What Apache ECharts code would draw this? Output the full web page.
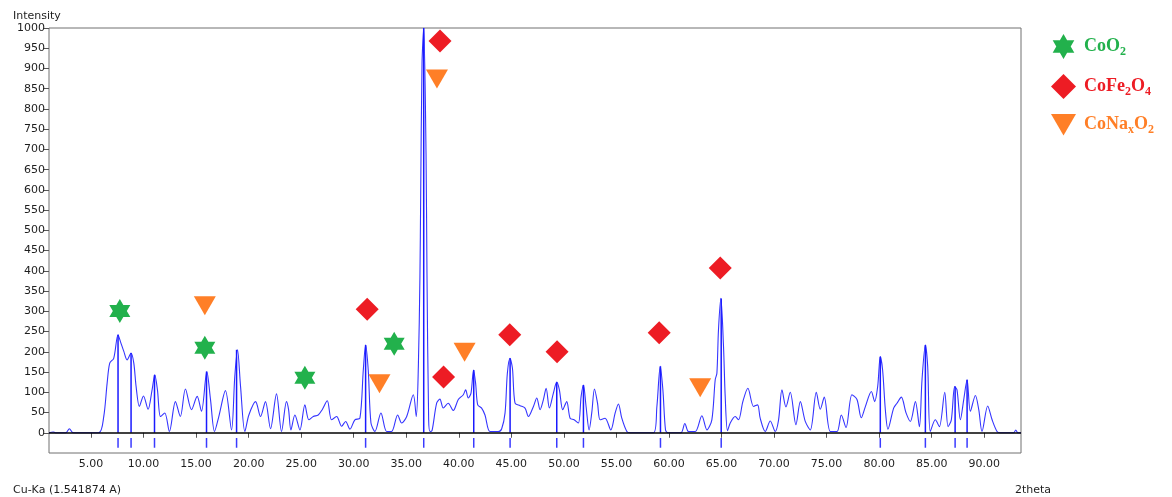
<!DOCTYPE html>
<html>
<head>
<meta charset="utf-8">
<title>XRD pattern</title>
<script src="https://cdn.jsdelivr.net/npm/echarts@6.0.0/dist/echarts.min.js"></script>
<style>
    html, body { margin: 0; padding: 0; background: #fff; }
    #chart_xrd { width: 1172px; height: 497px; }
</style>
</head>
<body>
<div id="chart_xrd"></div>
<script>
// measured pattern (2theta, intensity)
var theta = [1.0, 1.4, 1.6, 2.6, 2.94, 3.3, 5.73, 6.21, 6.53, 6.78, 7.16, 7.57, 7.8, 8.12, 8.43, 8.81, 9.07, 9.29, 9.6, 9.99,
    10.43, 10.81, 11.07, 11.32, 11.61, 12.02, 12.46, 13.03, 13.5, 13.98, 14.56, 15.1, 15.51, 16.02, 16.37, 16.75, 17.16, 17.79, 18.37, 18.68,
    18.94, 19.23, 19.64, 20.02, 20.66, 21.13, 21.6, 22.08, 22.65, 23.13, 23.6, 23.8, 24.02, 24.4, 24.88, 25.35, 25.73, 26.15, 26.62, 27.0,
    27.48, 27.89, 28.37, 28.85, 29.23, 29.64, 30.11, 30.59, 30.91, 31.13, 31.38, 31.64, 32.02, 32.59, 33.13, 33.6, 34.18, 34.56, 35.04, 35.67,
    35.95, 36.15, 36.3, 36.37, 36.5, 36.66, 36.88, 36.97, 37.13, 37.26, 37.45, 37.89, 38.2, 38.52, 38.99, 39.47, 39.95, 40.43, 40.65, 40.9,
    41.16, 41.4, 41.6, 41.8, 42.17, 42.49, 42.97, 43.76, 44.08, 44.4, 44.62, 44.87, 45.1, 45.35, 45.83, 46.3, 46.62, 47.1, 47.42, 47.73,
    48.05, 48.31, 48.62, 49.0, 49.32, 49.57, 49.89, 50.27, 50.59, 50.97, 51.38, 51.64, 51.86, 52.11, 52.4, 52.65, 52.91, 53.2, 53.45, 53.92,
    54.46, 54.88, 55.19, 55.51, 55.99, 56.3, 58.53, 58.85, 59.17, 59.42, 59.67, 59.9, 61.13, 61.51, 61.86, 62.5, 63.13, 63.61, 64.08, 64.4,
    64.56, 64.71, 64.94, 65.19, 65.35, 65.57, 65.83, 66.3, 66.62, 67.03, 67.51, 68.05, 68.43, 68.68, 69.16, 69.64, 70.11, 70.43, 70.75, 71.13,
    71.54, 72.08, 72.5, 72.97, 73.45, 74.02, 74.4, 74.78, 75.35, 75.99, 76.4, 76.85, 77.41, 77.89, 78.3, 78.68, 79.26, 79.57, 79.86, 80.11,
    80.33, 80.59, 80.84, 81.38, 81.7, 82.11, 82.56, 82.97, 83.45, 83.83, 84.08, 84.4, 84.62, 84.87, 85.35, 85.73, 86.24, 86.56, 86.87, 87.19,
    87.41, 87.73, 88.05, 88.37, 88.68, 89.16, 89.48, 89.79, 90.33, 90.75, 91.22, 91.5, 92.8, 93.0, 93.2, 93.5];
var intensity = [0, 2, 0, 0, 10, 0, 0, 40, 122, 172, 184, 242, 225, 201, 180, 197, 172, 114, 65, 91,
    58, 106, 143, 106, 40, 49, 3, 77, 40, 108, 57, 90, 53, 151, 82, 3, 40, 104, 7, 139,
    205, 114, 3, 44, 77, 40, 77, 10, 96, 3, 77, 57, 7, 44, 7, 69, 32, 40, 44, 57,
    79, 32, 40, 16, 28, 9, 32, 36, 155, 217, 155, 24, 3, 49, 3, 3, 44, 24, 40, 94,
    40, 164, 386, 583, 913, 1000, 690, 394, 32, 3, 5, 73, 83, 61, 73, 55, 82, 94, 106, 86,
    98, 155, 122, 69, 61, 44, 3, 3, 10, 49, 147, 184, 160, 73, 67, 61, 40, 65, 86, 57,
    82, 110, 61, 98, 125, 106, 57, 77, 36, 32, 24, 90, 118, 65, 7, 49, 108, 73, 32, 36,
    7, 49, 71, 36, 3, 0, 0, 65, 164, 106, 7, 0, 0, 23, 3, 3, 42, 7, 32, 131,
    147, 254, 332, 213, 90, 5, 24, 40, 32, 77, 110, 65, 69, 36, 3, 29, 3, 32, 106, 64,
    100, 20, 77, 28, 7, 100, 58, 88, 3, 3, 44, 13, 94, 82, 37, 64, 102, 77, 114, 188,
    155, 57, 9, 61, 73, 88, 49, 28, 77, 15, 131, 217, 164, 3, 32, 15, 100, 15, 32, 114,
    106, 32, 82, 131, 53, 92, 57, 3, 66, 32, 3, 0, 0, 7, 0, 0];

// reference peak positions (sticks)
var peakTheta = [7.57, 8.81, 11.04, 15.99, 18.85, 31.13, 36.66, 41.42, 44.88, 49.32, 51.86, 59.19, 64.97, 80.11, 84.4, 87.23, 88.37];
var peakHeight = [242, 197, 143, 151, 205, 217, 1000, 155, 184, 125, 118, 164, 332, 188, 217, 114, 131];

// phase markers
var coo2Theta = [7.74, 15.83, 25.35, 33.85];
var coo2Y = [301, 210, 136, 220];
var cofeTheta = [38.21, 31.28, 38.55, 44.85, 49.35, 59.07, 64.88];
var cofeY = [968, 305, 138, 242, 200, 247, 407];
var conaTheta = [37.92, 15.83, 32.45, 40.55, 62.97];
var conaY = [874, 314, 121, 199, 111];

var xTicks = [5, 10, 15, 20, 25, 30, 35, 40, 45, 50, 55, 60, 65, 70, 75, 80, 85, 90];
var yTicks = [0, 50, 100, 150, 200, 250, 300, 350, 400, 450, 500, 550, 600, 650, 700, 750, 800, 850, 900, 950, 1000];

function zip(a, b) {
    var out = [];
    for (var i = 0; i < a.length; i = i + 1) {
        out.push([a[i], b[i]]);
    }
    return out;
}

var starPath = 'path://M100,0 L128.9,50 L186.6,50 L157.7,100 L186.6,150 L128.9,150 L100,200 L71.1,150 L13.4,150 L42.3,100 L13.4,50 L71.1,50 Z';
var triPath = 'path://M0,0 L22,0 L11,19 Z';

var axisFont = 'Tahoma, "DejaVu Sans", sans-serif';
var legendFont = '"Liberation Serif", "Times New Roman", serif';

var chart_xrd = echarts.init(document.getElementById('chart_xrd'));
chart_xrd.setOption(option = {
    animation: false,
    grid: {
        left: 49,
        right: 151,
        top: 28,
        bottom: 44,
        show: true,
        borderColor: '#707070',
        borderWidth: 1
    },
    title: [{
        text: 'Intensity',
        left: 8,
        top: 6,
        textStyle: {fontFamily: axisFont, fontSize: 11, fontWeight: 'normal', color: '#1e1e1e'}
    }, {
        text: 'Cu-Ka (1.541874 A)',
        left: 8,
        top: 480,
        textStyle: {fontFamily: axisFont, fontSize: 11, fontWeight: 'normal', color: '#1e1e1e'}
    }, {
        text: '2theta',
        left: 1010,
        top: 480,
        textStyle: {fontFamily: axisFont, fontSize: 11, fontWeight: 'normal', color: '#1e1e1e'}
    }],
    legend: {
        orient: 'vertical',
        left: 1046,
        top: 29,
        itemWidth: 25,
        itemHeight: 25,
        itemGap: 15,
        selectedMode: false,
        formatter: function (name) {
            var map = {
                'CoO2': '{g|CoO}{gs|2}',
                'CoFe2O4': '{r|CoFe}{rs|2}{r|O}{rs|4}',
                'CoNaxO2': '{o|CoNa}{os|x}{o|O}{os|2}'
            };
            return map[name];
        },
        textStyle: {
            padding: [0, 0, 0, 3],
            rich: {
                g: {fontFamily: legendFont, fontWeight: 'bold', fontSize: 18, color: '#22b14c', lineHeight: 22},
                gs: {fontFamily: legendFont, fontWeight: 'bold', fontSize: 12, color: '#22b14c', lineHeight: 20, verticalAlign: 'bottom'},
                r: {fontFamily: legendFont, fontWeight: 'bold', fontSize: 18, color: '#ed1c24', lineHeight: 22},
                rs: {fontFamily: legendFont, fontWeight: 'bold', fontSize: 12, color: '#ed1c24', lineHeight: 20, verticalAlign: 'bottom'},
                o: {fontFamily: legendFont, fontWeight: 'bold', fontSize: 18, color: '#ff7f27', lineHeight: 22},
                os: {fontFamily: legendFont, fontWeight: 'bold', fontSize: 12, color: '#ff7f27', lineHeight: 20, verticalAlign: 'bottom'}
            }
        },
        data: [
            {name: 'CoO2', icon: starPath},
            {name: 'CoFe2O4', icon: 'diamond'},
            {name: 'CoNaxO2', icon: triPath}
        ]
    },
    xAxis: {
        type: 'value',
        min: 1,
        max: 93.5,
        axisLine: {show: false},
        splitLine: {show: false},
        axisTick: {
            show: true,
            length: 5,
            customValues: xTicks,
            lineStyle: {color: '#555'}
        },
        axisLabel: {
            customValues: xTicks,
            margin: 6,
            fontFamily: axisFont,
            fontSize: 11,
            color: '#1e1e1e',
            formatter: function (v) {
                return v.toFixed(2);
            }
        }
    },
    yAxis: {
        type: 'value',
        min: -50,
        max: 1000,
        axisLine: {show: false},
        splitLine: {show: false},
        axisTick: {
            show: true,
            length: 6,
            customValues: yTicks,
            lineStyle: {color: '#555'}
        },
        axisLabel: {
            customValues: yTicks,
            margin: 4,
            fontFamily: axisFont,
            fontSize: 11,
            color: '#1e1e1e',
            formatter: function (v) {
                return String(v);
            }
        }
    },
    series: [
        {
            name: 'pattern',
            type: 'line',
            data: zip(theta, intensity),
            showSymbol: false,
            smooth: 0.3,
            lineStyle: {color: '#3434ff', width: 1.1},
            z: 3,
            markLine: {
                silent: true,
                symbol: 'none',
                label: {show: false},
                lineStyle: {color: '#000', width: 1.5, type: 'solid'},
                data: [{yAxis: 0}]
            }
        },
        {
            name: 'sticks',
            type: 'custom',
            data: zip(peakTheta, peakHeight),
            z: 4,
            renderItem: function (params, api) {
                var x = api.value(0);
                var top = api.coord([x, api.value(1)]);
                var base = api.coord([x, 0]);
                var t1 = api.coord([x, -13]);
                var t2 = api.coord([x, -37]);
                return {
                    type: 'group',
                    children: [{
                        type: 'line',
                        shape: {x1: base[0], y1: base[1], x2: top[0], y2: top[1]},
                        style: {stroke: '#1a1aff', lineWidth: 1.5}
                    }, {
                        type: 'line',
                        shape: {x1: t1[0], y1: t1[1], x2: t2[0], y2: t2[1]},
                        style: {stroke: '#3a3aff', lineWidth: 1.5}
                    }]
                };
            }
        },
        {
            name: 'CoO2',
            type: 'scatter',
            data: zip(coo2Theta, coo2Y),
            symbol: starPath,
            symbolSize: [21, 24],
            itemStyle: {color: '#22b14c', opacity: 1},
            z: 5
        },
        {
            name: 'CoFe2O4',
            type: 'scatter',
            data: zip(cofeTheta, cofeY),
            symbol: 'diamond',
            symbolSize: [23, 23],
            itemStyle: {color: '#ed1c24', opacity: 1},
            z: 5
        },
        {
            name: 'CoNaxO2',
            type: 'scatter',
            data: zip(conaTheta, conaY),
            symbol: triPath,
            symbolSize: [22, 19],
            itemStyle: {color: '#ff7f27', opacity: 1},
            z: 5
        }
    ]
});
</script>
</body>
</html>
